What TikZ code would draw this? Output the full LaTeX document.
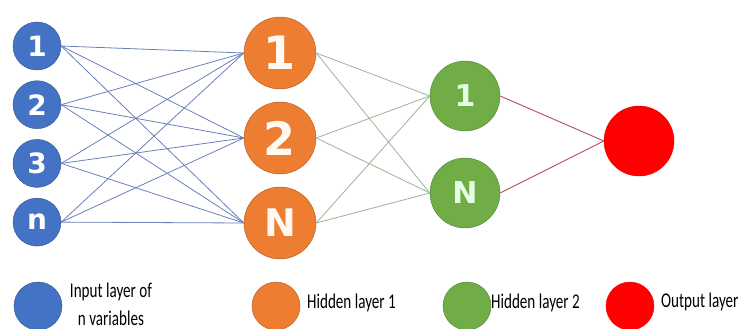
\documentclass[tikz,border=0pt]{standalone}
\usepackage{fontspec}
\usetikzlibrary{shapes.geometric,arrows}
\newfontfamily\nodefont{DejaVu Sans}
\newfontfamily\legendfont[FakeStretch=0.72]{Carlito}
\definecolor{inblue}{RGB}{68,114,196}
\definecolor{inblueedge}{RGB}{47,82,143}
\definecolor{hidorange}{RGB}{237,125,49}
\definecolor{hidorangeedge}{RGB}{174,90,33}
\definecolor{hidgreen}{RGB}{112,173,71}
\definecolor{hidgreenedge}{RGB}{80,126,50}
\definecolor{outred}{RGB}{255,0,0}
\definecolor{linkblue}{RGB}{108,128,184}
\definecolor{linkgreen}{RGB}{160,177,150}
\definecolor{linkred}{RGB}{178,78,90}
\tikzstyle{inputnode}=[circle,minimum size=48pt,inner sep=0pt,draw=inblueedge,fill=inblue,text=white,font=\nodefont\bfseries\fontsize{28}{28}\selectfont]
\tikzstyle{hiddenone}=[circle,minimum size=72pt,inner sep=0pt,draw=hidorangeedge,fill=hidorange,text=white!95!orange,font=\nodefont\bfseries\fontsize{38}{38}\selectfont]
\tikzstyle{hiddentwo}=[circle,minimum size=70pt,inner sep=0pt,draw=hidgreenedge,fill=hidgreen,text=white!90!green,font=\nodefont\bfseries\fontsize{30}{30}\selectfont]
\tikzstyle{outputnode}=[circle,minimum size=70pt,inner sep=0pt,draw=outred!90!black,fill=outred]
\tikzstyle{keydot}=[circle,minimum size=48pt,inner sep=0pt,draw=black!40]
\tikzstyle{legendtext}=[inner sep=0pt,text=black,font=\legendfont\fontsize{21}{28}\selectfont]
\tikzstyle{bluelink}=[draw=linkblue,line width=0.8pt]
\tikzstyle{greenlink}=[draw=linkgreen,line width=0.8pt]
\tikzstyle{redlink}=[draw=linkred,line width=0.9pt]
\begin{document}
\begin{tikzpicture}[node distance=58.7pt]
            \useasboundingbox (0,0) rectangle (742pt,-329pt);
            % input layer
            \node (in1)[inputnode] at (37pt,-46pt){1};
            \node (in2)[inputnode,below of=in1]{2};
            \node (in3)[inputnode,below of=in2]{3};
            \node (in4)[inputnode,below of=in3]{n};
            % hidden layer 1
            \node (h1)[hiddenone,font=\nodefont\bfseries\fontsize{46}{46}\selectfont] at (280pt,-53pt){1};
            \node (h2)[hiddenone,font=\nodefont\bfseries\fontsize{46}{46}\selectfont,below of=h1,yshift=-26.3pt]{2};
            \node (h3)[hiddenone,below of=h2,yshift=-26.3pt]{N};
            % hidden layer 2
            \node (g1)[hiddentwo] at (465pt,-96pt){1};
            \node (g2)[hiddentwo,below of=g1,yshift=-38.3pt]{N};
            % output layer
            \node (out)[outputnode] at (639pt,-141pt){};
            \draw [bluelink] (in1.east) -- (h1.west);
            \draw [bluelink] (in1.east) -- (h2.west);
            \draw [bluelink] (in1.east) -- (h3.west);
            \draw [bluelink] (in2.east) -- (h1.west);
            \draw [bluelink] (in2.east) -- (h2.west);
            \draw [bluelink] (in2.east) -- (h3.west);
            \draw [bluelink] (in3.east) -- (h1.west);
            \draw [bluelink] (in3.east) -- (h2.west);
            \draw [bluelink] (in3.east) -- (h3.west);
            \draw [bluelink] (in4.east) -- (h1.west);
            \draw [bluelink] (in4.east) -- (h2.west);
            \draw [bluelink] (in4.east) -- (h3.west);
            \draw [greenlink] (h1.east) -- (g1.west);
            \draw [greenlink] (h1.east) -- (g2.west);
            \draw [greenlink] (h2.east) -- (g1.west);
            \draw [greenlink] (h2.east) -- (g2.west);
            \draw [greenlink] (h3.east) -- (g1.west);
            \draw [greenlink] (h3.east) -- (g2.west);
            \draw [redlink] (g1.east) -- (out.west);
            \draw [redlink] (g2.east) -- (out.west);
            % legend
            \node (key1)[keydot,fill=inblue,draw=inblueedge] at (38pt,-306pt){};
            \node (key2)[keydot,fill=hidorange,draw=hidorangeedge] at (276pt,-306pt){};
            \node (key3)[keydot,fill=hidgreen,draw=hidgreenedge] at (467pt,-306pt){};
            \node (key4)[keydot,fill=outred,draw=outred] at (630pt,-306pt){};
            \node (lab1)[legendtext,align=center] at (111pt,-304pt){Input layer of\\n variables};
            \node (lab2)[legendtext,anchor=west] at (307pt,-303pt){Hidden layer 1};
            \node (lab3)[legendtext,anchor=west] at (491pt,-303pt){Hidden layer 2};
            \node (lab4)[legendtext,anchor=west] at (661pt,-302pt){Output layer};
        \end{tikzpicture}
\end{document}
